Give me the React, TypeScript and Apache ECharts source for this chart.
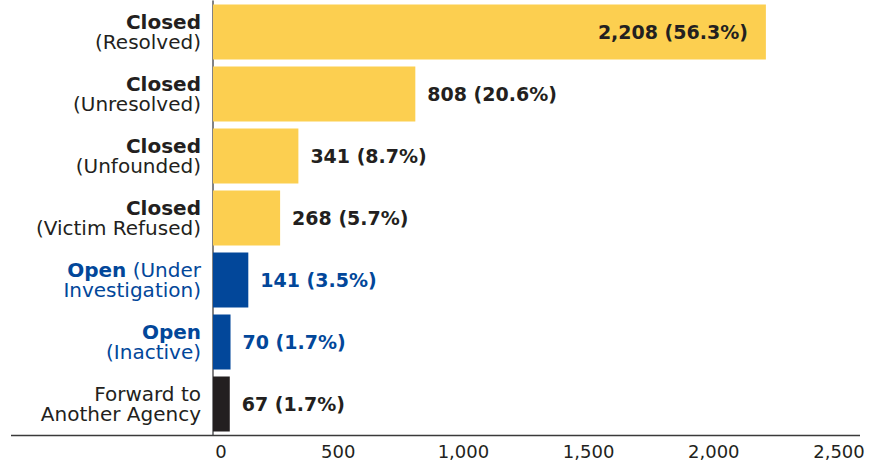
import React, { useEffect, useRef } from "react";
import * as echarts from "echarts";

const categories = [
  "Closed\n(Resolved)",
  "Closed\n(Unresolved)",
  "Closed\n(Unfounded)",
  "Closed\n(Victim Refused)",
  "Open (Under\nInvestigation)",
  "Open\n(Inactive)",
  "Forward to\nAnother Agency",
];
const counts = [2208, 808, 341, 268, 141, 70, 67];
const percents = ["56.3", "20.6", "8.7", "5.7", "3.5", "1.7", "1.7"];
const groups = ["closed", "closed", "closed", "closed", "open", "open", "forward"];

const YELLOW = "#FCCF50";
const BLUE = "#02479A";
const DARK = "#231F20";
const FONT = "'DejaVu Sans', 'Open Sans', sans-serif";

const barColor = (g: string) => (g === "closed" ? YELLOW : g === "open" ? BLUE : DARK);
const textColor = (g: string) => (g === "open" ? BLUE : DARK);

export default function App() {
  const ref = useRef<HTMLDivElement>(null);
  useEffect(() => {
    if (!ref.current) return;
    const chart = echarts.init(ref.current, null, { renderer: "svg" });
    const richBase: any = {};
    ["closed", "open", "forward"].forEach((g) => {
      richBase[g + "B"] = { fontFamily: FONT, fontSize: 20, fontWeight: "bold", color: textColor(g), lineHeight: 20 };
      richBase[g + "N"] = { fontFamily: FONT, fontSize: 20, fontWeight: "normal", color: textColor(g), lineHeight: 20 };
    });
    richBase.z = { fontFamily: FONT, fontSize: 18, color: DARK, padding: [0, 0, 0, 16] };
    richBase.t = { fontFamily: FONT, fontSize: 18, color: DARK };
    chart.setOption({
      animation: false,
      grid: { left: 213, right: 34, top: 1, bottom: 34, containLabel: false },
      xAxis: {
        type: "value",
        min: 0,
        max: 2500,
        interval: 500,
        axisLine: { show: false },
        axisTick: { show: false },
        splitLine: { show: false },
        axisLabel: {
          margin: 7,
          fontFamily: FONT,
          fontSize: 18,
          color: DARK,
          formatter: (v: number) =>
            v === 0 ? "{z|0}" : "{t|" + v.toLocaleString("en-US") + "}",
          rich: richBase,
        },
      },
      yAxis: {
        type: "category",
        inverse: true,
        data: categories,
        axisLine: { show: true, lineStyle: { color: "#58595B", width: 1.5 } },
        axisTick: { show: false },
        axisLabel: {
          margin: 12,
          align: "right",
          formatter: (value: string, idx: number) => {
            const g = groups[idx];
            return value
              .split("\n")
              .map((line) => {
                const m = line.match(/^(Closed|Open)(.*)$/);
                if (m) {
                  return "{" + g + "B|" + m[1] + "}" + (m[2] ? "{" + g + "N|" + m[2] + "}" : "");
                }
                return "{" + g + "N|" + line + "}";
              })
              .join("\n");
          },
          rich: richBase,
        },
      },
      series: [
        {
          type: "bar",
          barCategoryGap: "11.5%",
          data: counts.map((c, i) => ({
            value: c,
            itemStyle: { color: barColor(groups[i]) },
            label: {
              show: true,
              position: i === 0 ? "insideRight" : "right",
              distance: i === 0 ? 18 : 12,
              fontFamily: FONT,
              fontSize: 19,
              fontWeight: "bold",
              color: textColor(groups[i]),
              formatter: () => c.toLocaleString("en-US") + " (" + percents[i] + "%)",
            },
          })),
        },
      ],
      graphic: [
        {
          type: "line",
          shape: { x1: 11, y1: 435.5, x2: 860, y2: 435.5 },
          style: { stroke: "#3A3A3A", lineWidth: 1.5 },
          z: 10,
        },
      ],
    });
    return () => chart.dispose();
  }, []);
  return (
    <div
      ref={ref}
      style={{ position: "fixed", left: 0, top: 0, width: 873, height: 469, background: "#fff" }}
    />
  );
}
